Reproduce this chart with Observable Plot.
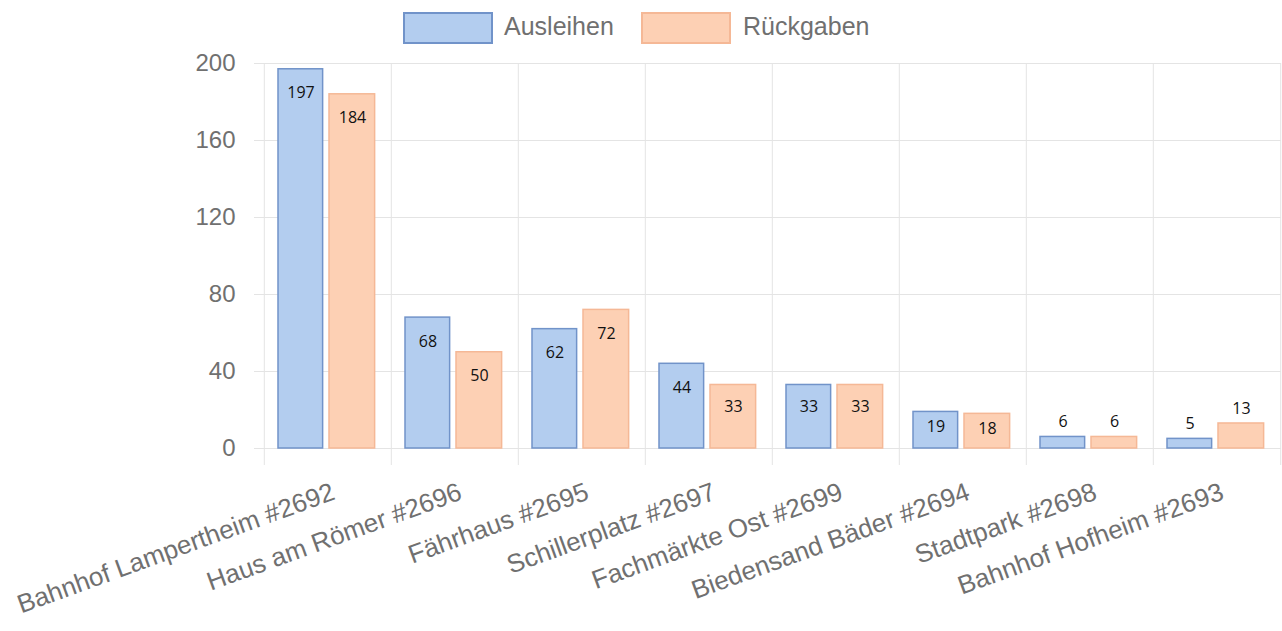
<!DOCTYPE html>
<html>
<head>
<meta charset="utf-8">
<script src="https://cdn.jsdelivr.net/npm/d3@7"></script>
<script src="https://cdn.jsdelivr.net/npm/@observablehq/plot@0.6"></script>
<style>
  html, body { margin: 0; padding: 0; background: #fff; }
  #wrap { position: relative; width: 1282px; height: 631px; overflow: hidden; }
  #legend { position: relative; width: 1282px; height: 50px; font-family: "Liberation Sans", Arial, sans-serif; font-size: 25px; color: #707070; }
  .box { position: absolute; top: 12px; width: 86px; height: 28px; border: 2px solid; }
  .lab { position: absolute; top: 10px; line-height: 32px; }
  #chart svg { display: block; }
</style>
</head>
<body>
<div id="wrap">
  <div id="legend"></div>
  <div id="chart"></div>
</div>
<script>
const stations = [
  "Bahnhof Lampertheim #2692",
  "Haus am Römer #2696",
  "Fährhaus #2695",
  "Schillerplatz #2697",
  "Fachmärkte Ost #2699",
  "Biedensand Bäder #2694",
  "Stadtpark #2698",
  "Bahnhof Hofheim #2693"
];
const seriesNames = ["Ausleihen", "Rückgaben"];
const ausleihen = [197, 68, 62, 44, 33, 19, 6, 5];
const rueckgaben = [184, 50, 72, 33, 33, 18, 6, 13];
const yTicks = [0, 40, 80, 120, 160, 200];

const fills = ["#b3cdef", "#fdd0b4"];
const strokes = ["#7193c9", "#f5b896"];

// legend
const legend = document.getElementById("legend");
const legendPos = [[403, 504], [641, 743]];
seriesNames.forEach((name, i) => {
  const b = document.createElement("div");
  b.className = "box";
  b.style.left = legendPos[i][0] + "px";
  b.style.background = fills[i];
  b.style.borderColor = strokes[i];
  legend.appendChild(b);
  const t = document.createElement("div");
  t.className = "lab";
  t.style.left = legendPos[i][1] + "px";
  t.textContent = name;
  legend.appendChild(t);
});

const dataA = stations.map((s, i) => ({station: s, value: ausleihen[i]}));
const dataR = stations.map((s, i) => ({station: s, value: rueckgaben[i]}));

const H = 581, mTop = 13, mBottom = 183;
const k = (H - mTop - mBottom) / 200; // px per unit
function labelY(v) {
  const h = v * k;
  if (v < 15) return v + 15 / k;
  const off = Math.min(24, 6 + 0.25 * h);
  return v - off / k;
}

const band = (1282 - 262 - 1) / stations.length;
const grey = "#e4e4e4";

const chart = Plot.plot({
  width: 1282,
  height: H,
  marginLeft: 262,
  marginRight: 1,
  marginTop: mTop,
  marginBottom: mBottom,
  x: {domain: stations, padding: 0, axis: null},
  y: {domain: [0, 200], axis: null},
  style: {fontFamily: "'Liberation Sans', Arial, sans-serif", fontSize: "24px", color: "#707070", background: "white", overflow: "visible"},
  marks: [
    Plot.ruleY(yTicks, {y: d => d, stroke: grey, strokeWidth: 1, insetLeft: -8}),
    Plot.ruleX(stations, {x: d => d, dx: -band / 2, y1: 200, y2: 0, insetBottom: -17, stroke: grey}),
    Plot.ruleX([stations[stations.length - 1]], {x: d => d, dx: band / 2, y1: 200, y2: 0, insetBottom: -17, stroke: grey}),
    Plot.barY(dataA, {x: "station", y: "value", fill: fills[0], stroke: strokes[0], strokeWidth: 1.5, insetLeft: 14, insetRight: band - 59}),
    Plot.barY(dataR, {x: "station", y: "value", fill: fills[1], stroke: strokes[1], strokeWidth: 1.5, insetLeft: 65, insetRight: band - 111}),
    Plot.text(dataA, {x: "station", y: d => labelY(d.value), text: d => String(d.value), dx: -27, fill: "#111", fontSize: 16, fontFamily: "'Open Sans', sans-serif", lineAnchor: "middle"}),
    Plot.text(dataR, {x: "station", y: d => labelY(d.value), text: d => String(d.value), dx: 24.5, fill: "#111", fontSize: 16, fontFamily: "'Open Sans', sans-serif", lineAnchor: "middle"}),
    Plot.axisY(yTicks, {tickSize: 0, tickPadding: 27, fill: "#707070", fontSize: 24, label: null}),
    Plot.text(stations, {x: d => d, frameAnchor: "bottom", dx: 2, dy: 33, rotate: -20, textAnchor: "end", lineAnchor: "top", fill: "#707070", fontSize: 26})
  ]
});
document.getElementById("chart").appendChild(chart);
</script>
</body>
</html>
